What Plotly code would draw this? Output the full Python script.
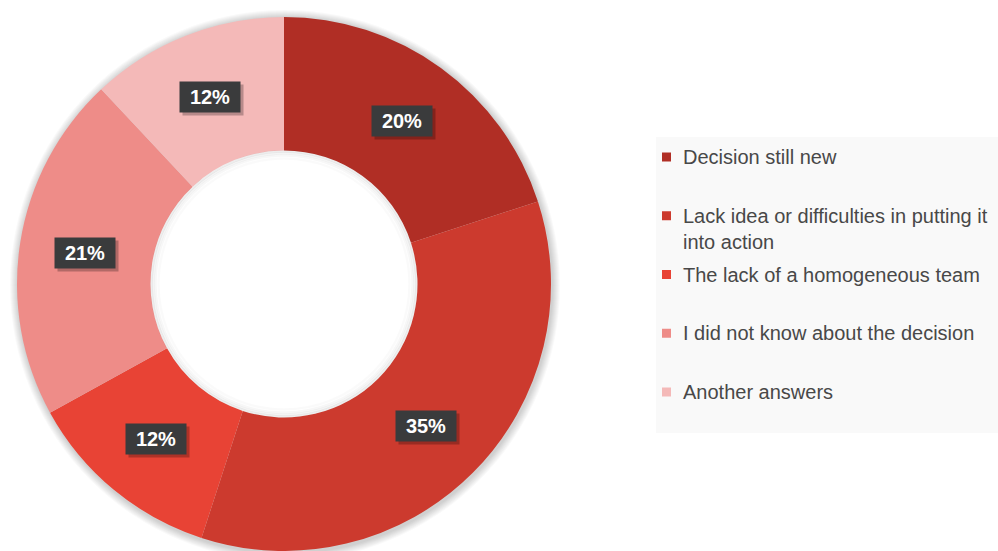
import math
import plotly.graph_objects as go

# Survey breakdown of reasons
labels = [
    "Decision still new",
    "Lack idea or difficulties in putting it<br>into action",
    "The lack of a homogeneous team",
    "I did not know about the decision",
    "Another answers",
]
values = [20, 35, 12, 21, 12]
colors = ["#B02E25", "#CC3A2E", "#E84335", "#EE8C88", "#F4B9B8"]

W, H = 998, 551
CX, CY, R = 284, 284, 267          # donut centre and outer radius in pixels
HOLE = 0.5
LABEL_R = 201                      # radius at which value boxes sit


def px(x):
    return x / W


def py(y):
    return (H - y) / H


fig = go.Figure()
fig.add_trace(go.Pie(
    labels=labels,
    values=values,
    hole=HOLE,
    sort=False,
    direction="clockwise",
    rotation=0,
    marker=dict(colors=colors, line=dict(width=0)),
    textinfo="none",
    hoverinfo="label+percent",
    showlegend=False,
    domain=dict(x=[px(CX - R), px(CX + R)], y=[0, py(CY - R)]),
))

shapes = []
# soft drop shadow around the ring
for k in range(8, 0, -1):
    shapes.append(dict(
        type="circle", xref="paper", yref="paper", layer="below",
        x0=px(CX - R - k + 1), x1=px(CX + R + k + 1),
        y0=py(CY + R + k + 2), y1=py(CY - R - k + 1),
        fillcolor="rgba(0,0,0,0.022)", line=dict(width=0),
    ))
# keep the centre of the ring clean
r_in = R * HOLE
shapes.append(dict(
    type="circle", xref="paper", yref="paper", layer="below",
    x0=px(CX - r_in - 1), x1=px(CX + r_in + 1),
    y0=py(CY + r_in + 1), y1=py(CY - r_in - 1),
    fillcolor="white", line=dict(width=0),
))
# inner shading along the hole edge
for k, a in [(1, 0.07), (3, 0.045), (5, 0.03), (8, 0.018)]:
    rr = r_in - k
    shapes.append(dict(
        type="circle", xref="paper", yref="paper", layer="above",
        x0=px(CX - rr), x1=px(CX + rr), y0=py(CY + rr), y1=py(CY - rr),
        line=dict(color=f"rgba(0,0,0,{a})", width=2.5),
    ))

annotations = []
# value boxes at each slice's mid-angle
total = sum(values)
start = 0.0
for v in values:
    mid = (start + v / 2) / total * 2 * math.pi
    start += v
    lx = CX + LABEL_R * math.sin(mid)
    ly = CY - LABEL_R * math.cos(mid)
    pct = f"{round(v / total * 100)}%"
    annotations.append(dict(
        x=px(lx), y=py(ly), xref="paper", yref="paper", text=" ",
        xanchor="center", yanchor="middle",
        showarrow=False, width=52, height=22, borderpad=4,
        bgcolor="rgba(0,0,0,0.25)", xshift=3, yshift=-3,
    ))
    annotations.append(dict(
        x=px(lx), y=py(ly), xref="paper", yref="paper", text=f"<b>{pct}</b>",
        xanchor="center", yanchor="middle",
        showarrow=False, width=52, height=22, borderpad=4,
        bgcolor="#3A3B3C", font=dict(family="Liberation Sans", size=20, color="white"),
    ))

# legend panel
LEG_X0, LEG_Y0, LEG_Y1 = 656, 137, 433
shapes.append(dict(
    type="rect", xref="paper", yref="paper", layer="below",
    x0=px(LEG_X0), x1=1.0, y0=py(LEG_Y1), y1=py(LEG_Y0),
    fillcolor="#F9F9F9", line=dict(width=0),
))
first_y, step = 157, 58.75
for i, (lab, col) in enumerate(zip(labels, colors)):
    yc = first_y + i * step
    shapes.append(dict(
        type="rect", xref="paper", yref="paper", layer="above",
        x0=px(662), x1=px(671), y0=py(yc + 4.5), y1=py(yc - 4.5),
        fillcolor=col, line=dict(width=0),
    ))
    annotations.append(dict(
        x=px(681), y=py(yc - 13), xref="paper", yref="paper",
        xanchor="left", yanchor="top", align="left", text=lab,
        showarrow=False,
        font=dict(family="Liberation Sans", size=20, color="#484848"),
    ))

fig.update_layout(
    width=W, height=H,
    margin=dict(l=0, r=0, t=0, b=0),
    paper_bgcolor="white",
    plot_bgcolor="white",
    shapes=shapes,
    annotations=annotations,
)

fig.write_html("out.html")
